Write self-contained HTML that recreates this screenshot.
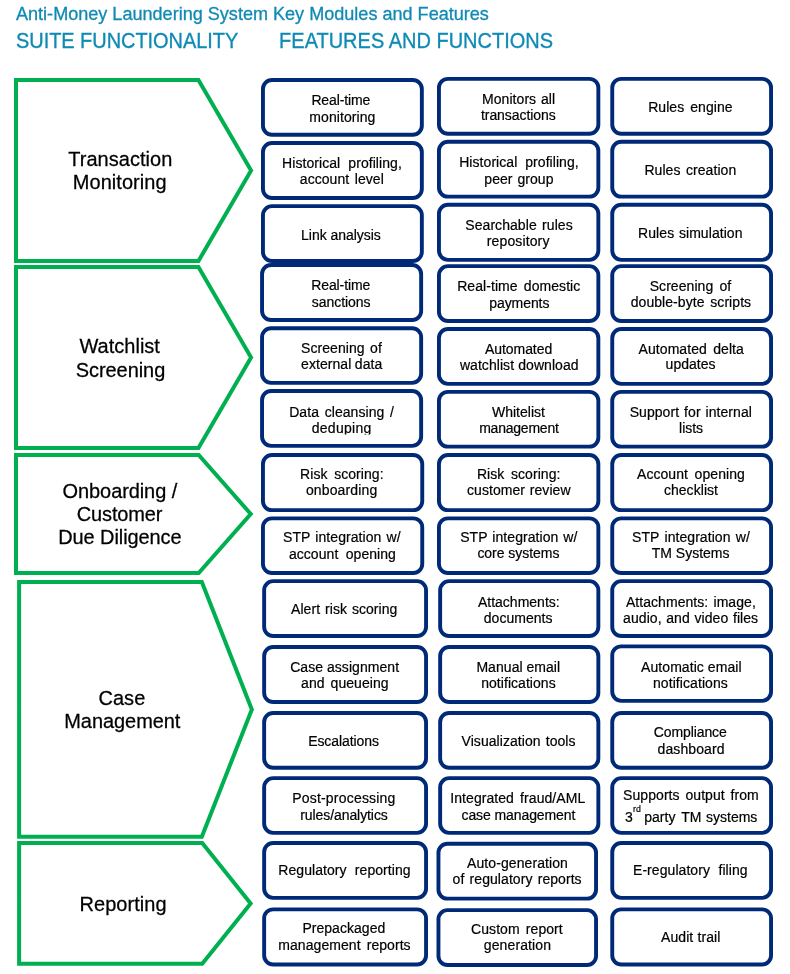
<!DOCTYPE html>
<html lang="en"><head><meta charset="utf-8"><title>Anti-Money Laundering System Key Modules and Features</title>
<style>
html,body{margin:0;padding:0;background:#fff;}
body{width:790px;height:974px;overflow:hidden;}
svg{display:block;will-change:transform;}
text{font-family:"Liberation Sans",sans-serif;white-space:pre;}
.t{fill:#0F8AB4;stroke:#0F8AB4;stroke-width:0.3px;}
.l{font-size:20px;fill:#000;stroke:#000;stroke-width:0.25px;}
.b{font-size:14.0px;fill:#000;stroke:#000;stroke-width:0.2px;}
.p{fill:#fff;stroke:#00B050;stroke-width:4;stroke-linejoin:miter;stroke-miterlimit:10;}
.r{fill:#fff;stroke:#002A77;stroke-width:3.9;}
</style></head><body>
<svg width="790" height="974" viewBox="0 0 790 974">
<text class="t" x="16.0" y="19.7" font-size="18.07">Anti-Money Laundering System Key Modules and Features</text>
<g transform="translate(0 48) scale(1 1.075)"><text class="t" x="16.0" y="0" font-size="20" style="letter-spacing:-0.05px">SUITE FUNCTIONALITY</text>
<text class="t" x="279.1" y="0" font-size="20">FEATURES AND FUNCTIONS</text></g>
<path class="p" d="M16.00 80.00 H198.45 L251.09 170.50 L198.45 261.00 H16.00 Z"/>
<path class="p" d="M16.00 266.90 H198.45 L251.09 357.45 L198.45 448.00 H16.00 Z"/>
<path class="p" d="M16.00 455.00 H198.70 L250.73 514.00 L198.70 573.00 H16.00 Z"/>
<path class="p" d="M19.10 582.00 H201.84 L251.85 709.40 L201.84 836.80 H19.10 Z"/>
<path class="p" d="M19.10 843.00 H202.24 L250.64 903.40 L202.24 963.80 H19.10 Z"/>
<text class="l" transform="translate(0 166) scale(1 1.055)" x="68.30" y="0" style="letter-spacing:0.027px;word-spacing:0.00px">Transaction</text>
<text class="l" transform="translate(0 189) scale(1 1.055)" x="72.80" y="0" style="letter-spacing:0.049px;word-spacing:0.00px">Monitoring</text>
<text class="l" transform="translate(0 353) scale(1 1.055)" x="79.50" y="0" style="letter-spacing:0.009px;word-spacing:0.00px">Watchlist</text>
<text class="l" transform="translate(0 377) scale(1 1.055)" x="75.70" y="0" style="letter-spacing:-0.054px;word-spacing:0.00px">Screening</text>
<text class="l" transform="translate(0 498) scale(1 1.055)" x="62.60" y="0" style="letter-spacing:-0.089px;word-spacing:0.00px">Onboarding /</text>
<text class="l" transform="translate(0 521) scale(1 1.055)" x="76.80" y="0" style="letter-spacing:-0.133px;word-spacing:0.00px">Customer</text>
<text class="l" transform="translate(0 544) scale(1 1.055)" x="58.20" y="0" style="letter-spacing:-0.082px;word-spacing:0.00px">Due Diligence</text>
<text class="l" transform="translate(0 705) scale(1 1.055)" x="98.40" y="0" style="letter-spacing:0.078px;word-spacing:0.00px">Case</text>
<text class="l" transform="translate(0 728) scale(1 1.055)" x="64.30" y="0" style="letter-spacing:-0.065px;word-spacing:0.00px">Management</text>
<text class="l" transform="translate(0 911) scale(1 1.055)" x="79.50" y="0" style="letter-spacing:0.051px;word-spacing:0.00px">Reporting</text>
<rect class="r" x="262.95" y="79.95" width="158.90" height="54.80" rx="9" ry="9"/>
<text class="b" x="311.40" y="105.0" style="letter-spacing:-0.127px;word-spacing:0.00px">Real-time</text>
<text class="b" x="309.30" y="122.0" style="letter-spacing:0.080px;word-spacing:0.00px">monitoring</text>
<rect class="r" x="262.95" y="143.05" width="158.90" height="54.90" rx="9" ry="9"/>
<text class="b" x="282.10" y="168.0" style="letter-spacing:0.060px;word-spacing:4.12px">Historical profiling,</text>
<text class="b" x="299.80" y="184.0" style="letter-spacing:0.060px;word-spacing:1.57px">account level</text>
<rect class="r" x="262.95" y="206.15" width="158.90" height="54.90" rx="9" ry="9"/>
<text class="b" x="301.10" y="240.0" style="letter-spacing:-0.046px;word-spacing:0.00px">Link analysis</text>
<rect class="r" x="262.05" y="264.95" width="159.10" height="55.10" rx="9" ry="9"/>
<text class="b" x="311.20" y="290.0" style="letter-spacing:-0.090px;word-spacing:0.00px">Real-time</text>
<text class="b" x="311.70" y="307.0" style="letter-spacing:-0.031px;word-spacing:0.00px">sanctions</text>
<rect class="r" x="262.05" y="328.25" width="159.10" height="54.60" rx="9" ry="9"/>
<text class="b" x="301.10" y="353.0" style="letter-spacing:0.060px;word-spacing:1.42px">Screening of</text>
<text class="b" x="301.10" y="369.0" style="letter-spacing:0.060px;word-spacing:-0.48px">external data</text>
<rect class="r" x="262.05" y="391.05" width="159.10" height="54.80" rx="9" ry="9"/>
<text class="b" x="289.20" y="417.0" style="letter-spacing:0.060px;word-spacing:1.75px">Data cleansing /</text>
<clipPath id="dd"><rect x="300" y="415" width="90" height="19.6"/></clipPath>
<g clip-path="url(#dd)"><text class="b" x="311.70" y="433.0" style="letter-spacing:0.296px;word-spacing:0.00px">deduping</text>
</g>
<rect class="r" x="262.95" y="455.05" width="159.30" height="55.10" rx="9" ry="9"/>
<text class="b" x="300.10" y="479.0" style="letter-spacing:0.060px;word-spacing:2.64px">Risk scoring:</text>
<text class="b" x="305.90" y="495.0" style="letter-spacing:0.136px;word-spacing:0.00px">onboarding</text>
<rect class="r" x="262.95" y="518.35" width="159.30" height="54.60" rx="9" ry="9"/>
<text class="b" x="283.10" y="542.0" style="letter-spacing:0.060px;word-spacing:1.14px">STP integration w/</text>
<text class="b" x="288.90" y="559.0" style="letter-spacing:0.060px;word-spacing:3.40px">account opening</text>
<rect class="r" x="264.15" y="581.15" width="161.90" height="54.80" rx="9" ry="9"/>
<text class="b" x="291.00" y="614.0" style="letter-spacing:0.060px;word-spacing:0.95px">Alert risk scoring</text>
<rect class="r" x="264.15" y="647.05" width="161.90" height="54.90" rx="9" ry="9"/>
<text class="b" x="290.20" y="672.0" style="letter-spacing:0.060px;word-spacing:-0.12px">Case assignment</text>
<text class="b" x="301.10" y="688.0" style="letter-spacing:0.060px;word-spacing:1.96px">and queueing</text>
<rect class="r" x="264.15" y="712.95" width="161.90" height="54.80" rx="9" ry="9"/>
<text class="b" x="308.20" y="746.0" style="letter-spacing:-0.089px;word-spacing:0.00px">Escalations</text>
<rect class="r" x="264.15" y="778.15" width="161.90" height="54.70" rx="9" ry="9"/>
<text class="b" x="292.20" y="803.0" style="letter-spacing:0.201px;word-spacing:0.00px">Post-processing</text>
<text class="b" x="300.30" y="820.0" style="letter-spacing:-0.086px;word-spacing:0.00px">rules/analytics</text>
<rect class="r" x="264.15" y="843.05" width="161.90" height="54.80" rx="9" ry="9"/>
<text class="b" x="278.30" y="875.0" style="letter-spacing:0.060px;word-spacing:4.30px">Regulatory reporting</text>
<rect class="r" x="264.15" y="909.35" width="161.90" height="55.10" rx="9" ry="9"/>
<text class="b" x="302.40" y="933.0" style="letter-spacing:0.038px;word-spacing:0.00px">Prepackaged</text>
<text class="b" x="278.30" y="950.0" style="letter-spacing:0.060px;word-spacing:2.10px">management reports</text>
<rect class="r" x="438.95" y="78.85" width="159.40" height="54.90" rx="9" ry="9"/>
<text class="b" x="482.00" y="104.0" style="letter-spacing:0.060px;word-spacing:0.87px">Monitors all</text>
<text class="b" x="481.00" y="120.0" style="letter-spacing:-0.071px;word-spacing:0.00px">transactions</text>
<rect class="r" x="438.95" y="141.75" width="159.40" height="54.90" rx="9" ry="9"/>
<text class="b" x="459.20" y="167.0" style="letter-spacing:0.060px;word-spacing:3.92px">Historical profiling,</text>
<text class="b" x="484.30" y="184.0" style="letter-spacing:0.060px;word-spacing:0.93px">peer group</text>
<rect class="r" x="438.95" y="204.75" width="159.40" height="55.10" rx="9" ry="9"/>
<text class="b" x="465.30" y="230.0" style="letter-spacing:0.060px;word-spacing:1.44px">Searchable rules</text>
<text class="b" x="486.80" y="246.0" style="letter-spacing:0.126px;word-spacing:0.00px">repository</text>
<rect class="r" x="438.95" y="266.15" width="159.40" height="54.90" rx="9" ry="9"/>
<text class="b" x="457.20" y="291.0" style="letter-spacing:0.060px;word-spacing:2.27px">Real-time domestic</text>
<text class="b" x="489.30" y="308.0" style="letter-spacing:-0.085px;word-spacing:0.00px">payments</text>
<rect class="r" x="438.95" y="329.05" width="159.40" height="54.80" rx="9" ry="9"/>
<text class="b" x="485.00" y="354.0" style="letter-spacing:-0.065px;word-spacing:0.00px">Automated</text>
<text class="b" x="459.90" y="370.0" style="letter-spacing:0.060px;word-spacing:0.16px">watchlist download</text>
<rect class="r" x="438.95" y="391.85" width="159.40" height="54.80" rx="9" ry="9"/>
<text class="b" x="491.90" y="417.0" style="letter-spacing:0.024px;word-spacing:0.00px">Whitelist</text>
<text class="b" x="479.20" y="433.0" style="letter-spacing:-0.225px;word-spacing:0.00px">management</text>
<rect class="r" x="438.95" y="455.05" width="159.40" height="55.10" rx="9" ry="9"/>
<text class="b" x="476.90" y="479.0" style="letter-spacing:0.060px;word-spacing:2.64px">Risk scoring:</text>
<text class="b" x="467.00" y="495.0" style="letter-spacing:0.060px;word-spacing:0.75px">customer review</text>
<rect class="r" x="438.95" y="518.35" width="159.40" height="54.60" rx="9" ry="9"/>
<text class="b" x="460.20" y="542.0" style="letter-spacing:0.060px;word-spacing:1.04px">STP integration w/</text>
<text class="b" x="477.40" y="558.0" style="letter-spacing:-0.033px;word-spacing:0.00px">core systems</text>
<rect class="r" x="440.15" y="581.15" width="158.20" height="54.80" rx="9" ry="9"/>
<text class="b" x="477.90" y="607.0" style="letter-spacing:0.008px;word-spacing:0.00px">Attachments:</text>
<text class="b" x="483.80" y="623.0" style="letter-spacing:0.027px;word-spacing:0.00px">documents</text>
<rect class="r" x="440.15" y="647.05" width="158.20" height="54.90" rx="9" ry="9"/>
<text class="b" x="476.40" y="672.0" style="letter-spacing:0.060px;word-spacing:-0.21px">Manual email</text>
<text class="b" x="481.20" y="688.0" style="letter-spacing:0.047px;word-spacing:0.00px">notifications</text>
<rect class="r" x="440.15" y="712.95" width="158.20" height="54.80" rx="9" ry="9"/>
<text class="b" x="461.50" y="746.0" style="letter-spacing:0.060px;word-spacing:1.11px">Visualization tools</text>
<rect class="r" x="440.15" y="778.15" width="158.20" height="54.70" rx="9" ry="9"/>
<text class="b" x="450.30" y="803.0" style="letter-spacing:0.060px;word-spacing:2.22px">Integrated fraud/AML</text>
<text class="b" x="461.50" y="820.0" style="letter-spacing:-0.092px;word-spacing:0.00px">case management</text>
<rect class="r" x="438.45" y="843.75" width="157.60" height="54.90" rx="9" ry="9"/>
<text class="b" x="467.00" y="868.0" style="letter-spacing:0.090px;word-spacing:0.00px">Auto-generation</text>
<text class="b" x="452.60" y="884.0" style="letter-spacing:0.060px;word-spacing:1.26px">of regulatory reports</text>
<rect class="r" x="438.45" y="910.15" width="157.60" height="54.80" rx="9" ry="9"/>
<text class="b" x="471.10" y="934.0" style="letter-spacing:0.060px;word-spacing:2.17px">Custom report</text>
<text class="b" x="483.80" y="950.0" style="letter-spacing:0.113px;word-spacing:0.00px">generation</text>
<rect class="r" x="612.25" y="78.85" width="158.80" height="54.90" rx="9" ry="9"/>
<text class="b" x="648.20" y="112.0" style="letter-spacing:0.060px;word-spacing:2.00px">Rules engine</text>
<rect class="r" x="612.25" y="141.75" width="158.80" height="54.90" rx="9" ry="9"/>
<text class="b" x="644.40" y="175.0" style="letter-spacing:0.060px;word-spacing:1.52px">Rules creation</text>
<rect class="r" x="612.25" y="204.75" width="158.80" height="55.10" rx="9" ry="9"/>
<text class="b" x="638.10" y="238.0" style="letter-spacing:0.060px;word-spacing:0.78px">Rules simulation</text>
<rect class="r" x="612.25" y="266.15" width="158.80" height="54.90" rx="9" ry="9"/>
<text class="b" x="649.70" y="291.0" style="letter-spacing:0.060px;word-spacing:2.22px">Screening of</text>
<text class="b" x="630.70" y="307.0" style="letter-spacing:0.060px;word-spacing:1.82px">double-byte scripts</text>
<rect class="r" x="612.25" y="329.05" width="158.80" height="54.80" rx="9" ry="9"/>
<text class="b" x="638.60" y="354.0" style="letter-spacing:0.060px;word-spacing:2.39px">Automated delta</text>
<text class="b" x="665.60" y="369.0" style="letter-spacing:0.030px;word-spacing:0.00px">updates</text>
<rect class="r" x="612.25" y="391.85" width="158.80" height="54.80" rx="9" ry="9"/>
<text class="b" x="629.70" y="417.0" style="letter-spacing:0.060px;word-spacing:1.00px">Support for internal</text>
<text class="b" x="679.10" y="433.0" style="letter-spacing:-0.053px;word-spacing:0.00px">lists</text>
<rect class="r" x="612.25" y="455.05" width="158.80" height="55.10" rx="9" ry="9"/>
<text class="b" x="637.00" y="479.0" style="letter-spacing:0.060px;word-spacing:2.64px">Account opening</text>
<text class="b" x="663.90" y="495.0" style="letter-spacing:0.051px;word-spacing:0.00px">checklist</text>
<rect class="r" x="612.25" y="518.35" width="158.80" height="54.60" rx="9" ry="9"/>
<text class="b" x="632.00" y="542.0" style="letter-spacing:0.060px;word-spacing:1.39px">STP integration w/</text>
<text class="b" x="651.70" y="558.0" style="letter-spacing:0.002px;word-spacing:0.00px">TM Systems</text>
<rect class="r" x="612.25" y="581.15" width="158.80" height="54.80" rx="9" ry="9"/>
<text class="b" x="625.90" y="607.0" style="letter-spacing:0.060px;word-spacing:1.20px">Attachments: image,</text>
<text class="b" x="623.10" y="623.0" style="letter-spacing:0.060px;word-spacing:0.73px">audio, and video files</text>
<rect class="r" x="612.25" y="646.35" width="158.80" height="54.50" rx="9" ry="9"/>
<text class="b" x="641.10" y="672.0" style="letter-spacing:0.060px;word-spacing:-0.02px">Automatic email</text>
<text class="b" x="653.00" y="688.0" style="letter-spacing:0.072px;word-spacing:0.00px">notifications</text>
<rect class="r" x="612.25" y="712.95" width="158.80" height="54.80" rx="9" ry="9"/>
<text class="b" x="653.80" y="737.0" style="letter-spacing:-0.104px;word-spacing:0.00px">Compliance</text>
<text class="b" x="657.50" y="754.0" style="letter-spacing:0.103px;word-spacing:0.00px">dashboard</text>
<rect class="r" x="612.25" y="778.15" width="158.80" height="54.70" rx="9" ry="9"/>
<text class="b" x="623.10" y="800.0" style="letter-spacing:0.060px;word-spacing:1.89px">Supports output from</text>
<text class="b" y="822.0"><tspan x="624.9">3</tspan><tspan x="633.0" dy="-9.6" font-size="8.8">rd</tspan><tspan x="644.3" dy="9.6">party</tspan> <tspan x="681.3">TM</tspan> <tspan x="706.0">systems</tspan></text>
<rect class="r" x="612.25" y="843.05" width="158.80" height="54.80" rx="9" ry="9"/>
<text class="b" x="633.00" y="875.0" style="letter-spacing:0.060px;word-spacing:4.57px">E-regulatory filing</text>
<rect class="r" x="612.25" y="909.35" width="158.80" height="55.10" rx="9" ry="9"/>
<text class="b" x="661.10" y="942.0" style="letter-spacing:0.060px;word-spacing:0.25px">Audit trail</text>
</svg>
</body></html>
